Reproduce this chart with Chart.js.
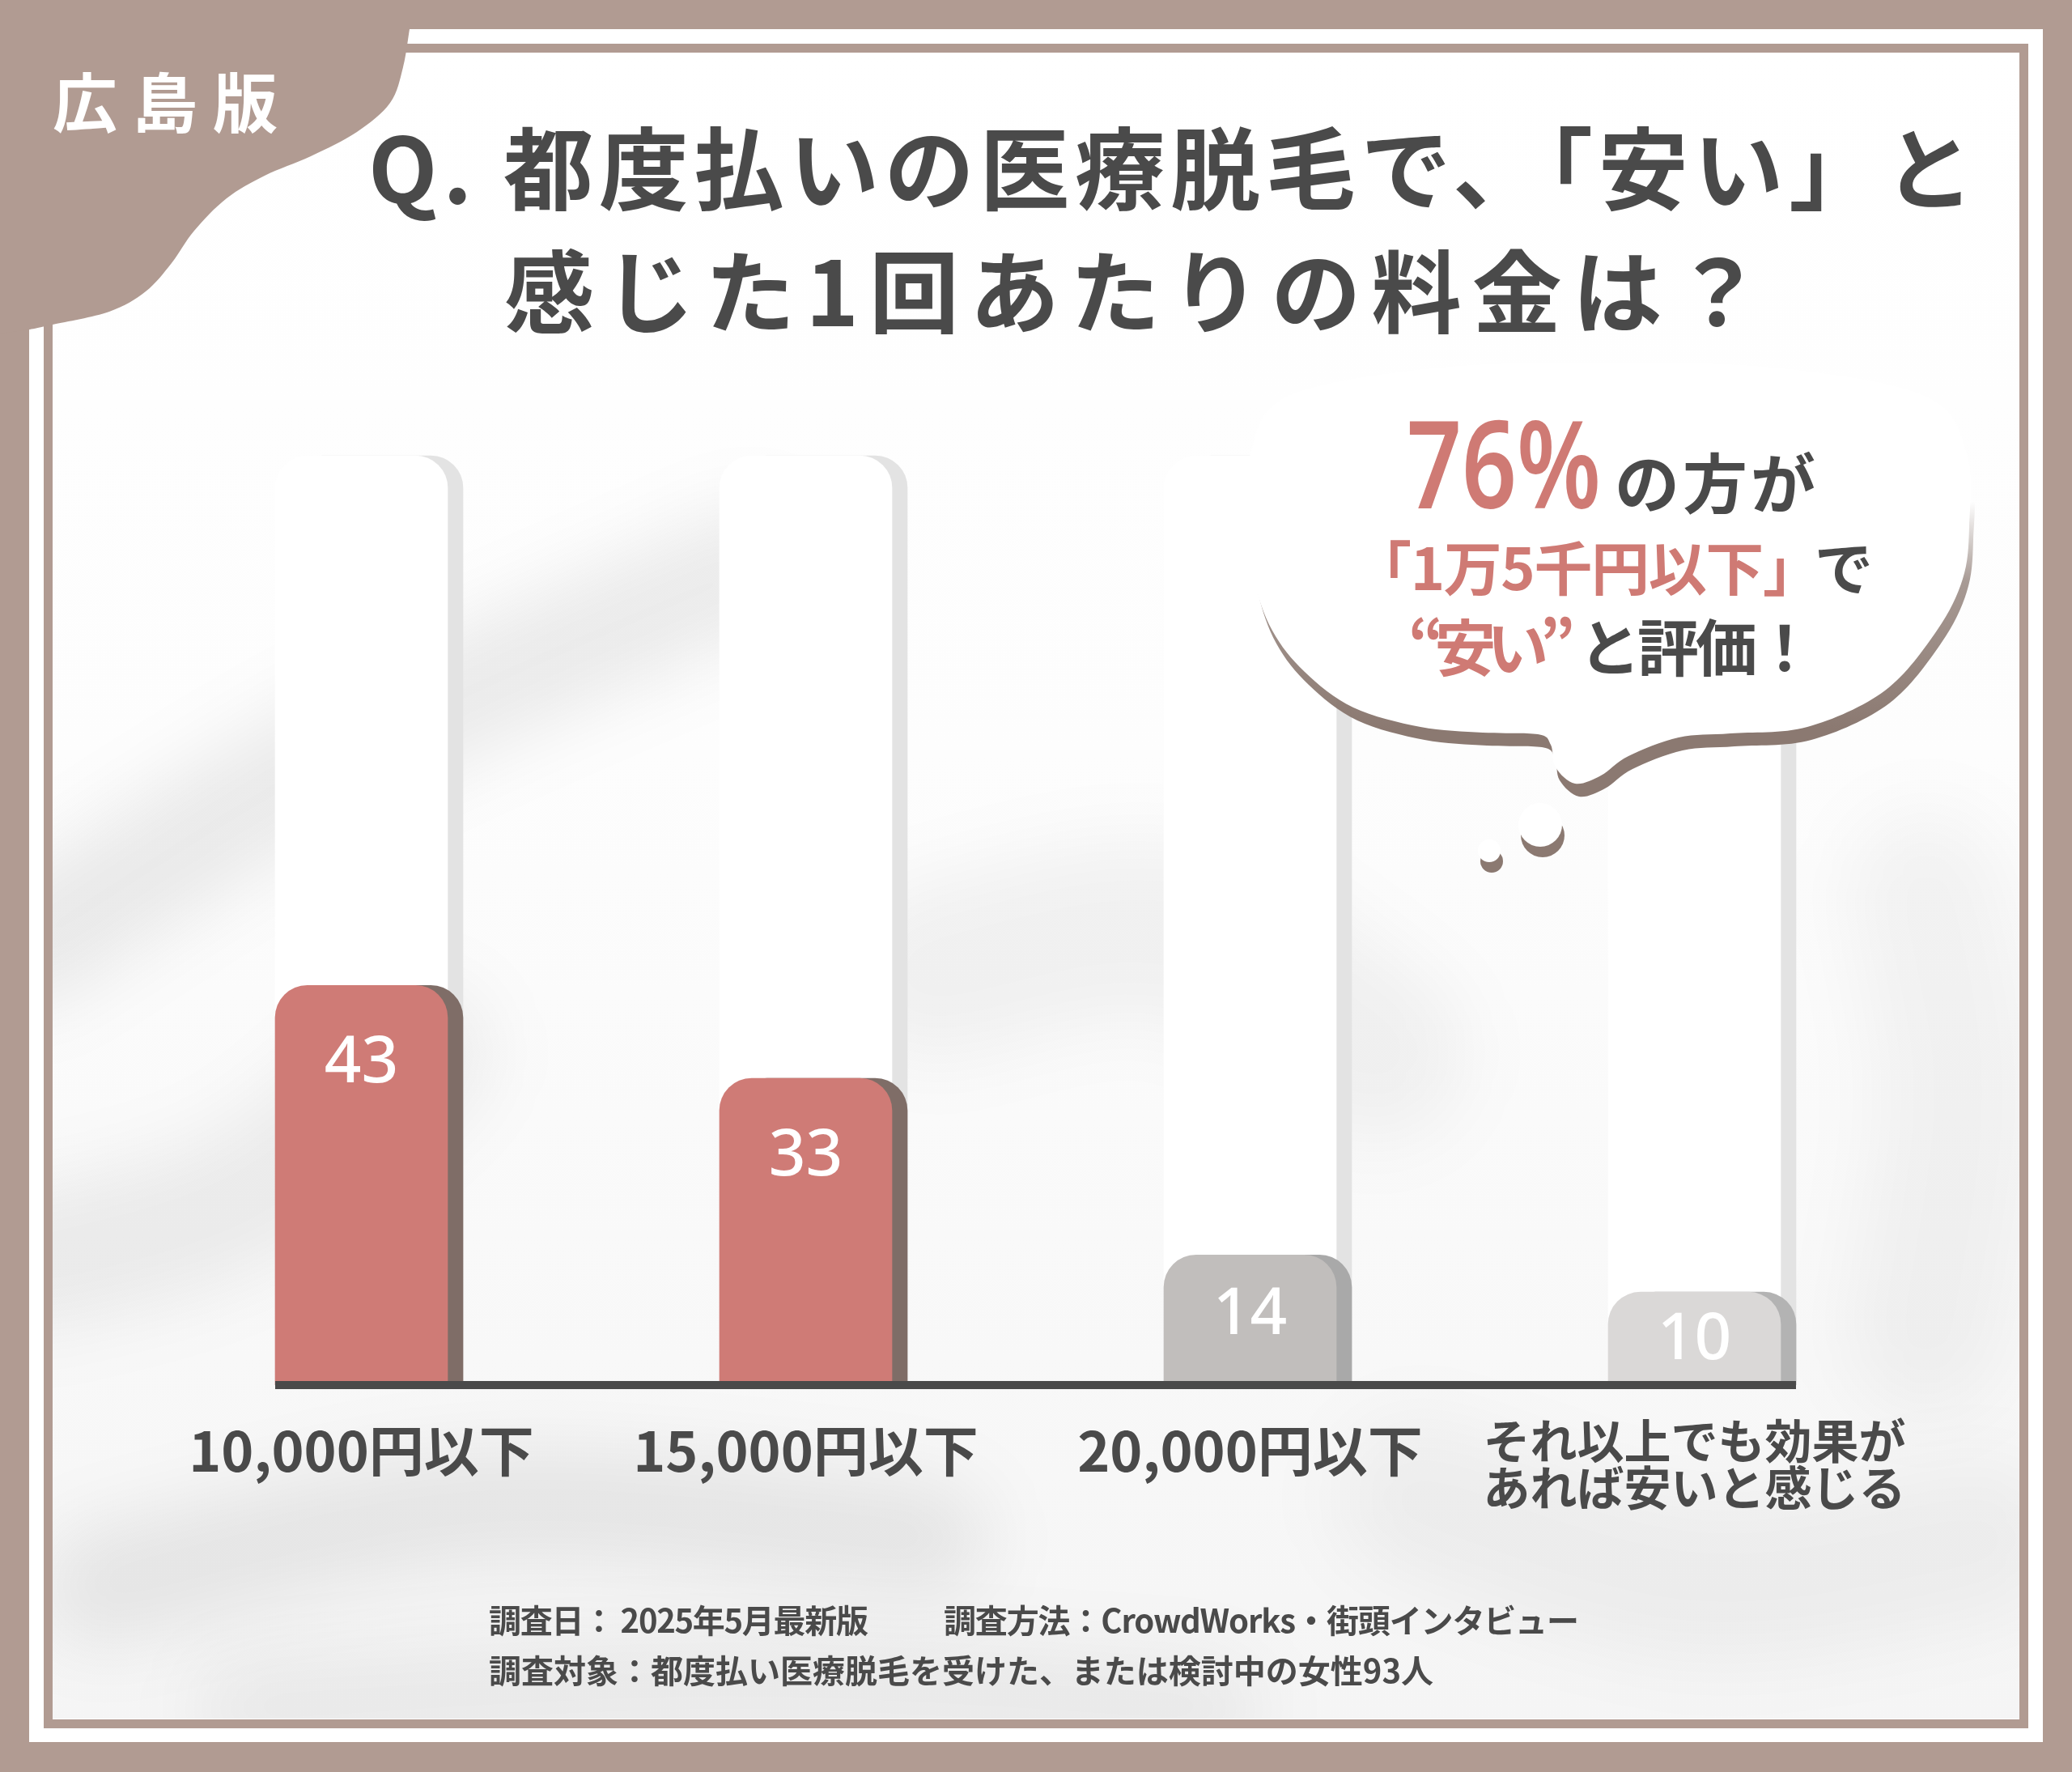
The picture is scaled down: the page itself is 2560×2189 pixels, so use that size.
<!DOCTYPE html>
<html lang="ja">
<head>
<meta charset="utf-8">
<title>都度払いの医療脱毛で「安い」と感じた1回あたりの料金</title>
<script src="https://cdn.jsdelivr.net/npm/chart.js@4.4.1/dist/chart.umd.min.js"></script>
<style>
  html, body { margin: 0; padding: 0; }
  body {
    width: 2560px; height: 2189px; position: relative; overflow: hidden;
    background: #b19b92;
    font-family: "Noto Sans CJK JP", "Noto Sans", sans-serif;
  }
  #chart { position: absolute; left: 0; top: 0; width: 2560px; height: 2189px; }
  .t {
    position: absolute; white-space: nowrap; line-height: 1;
    display: inline-block; font-weight: 700; color: #4a4a4a;
    transform-origin: 0 0;
  }
  .pk { color: #cf7a74; }
  .wh { color: #ffffff; }
</style>
</head>
<body>
<canvas id="chart" width="2560" height="2189"></canvas>

<div class="t wh fit" data-w="278" style="left:65px;top:82px;font-size:80px">広島版</div>

<div class="t fit" data-w="1984" style="left:455px;top:147px;font-size:111px">Q. 都度払いの医療脱毛で、「安い」と</div>
<div class="t fit" data-w="1555" style="left:623px;top:299px;font-size:111px">感じた1回あたりの料金は？</div>

<div class="t pk sx" data-w="240" style="left:1738px;top:495px;font-size:150px;font-weight:600;font-family:'Noto Sans',sans-serif">76%</div>
<div class="t fit" data-w="248" style="left:1995px;top:552px;font-size:80px">の方が</div>
<div class="t pk fit" data-w="578" style="left:1672px;top:662px;font-size:72px">「1万5千円以下」</div>
<div class="t" style="left:2242px;top:662px;font-size:72px">で</div>
<div class="t pk fit" data-w="206" style="left:1740px;top:758px;font-size:76px">“安い”</div>
<div class="t fit" data-w="292" style="left:1951px;top:758px;font-size:76px">と評価！</div>

<div class="t fit" data-w="469" style="left:604px;top:1980px;font-size:40px">調査日： 2025年5月最新版</div>
<div class="t fit" data-w="785" style="left:1166px;top:1980px;font-size:40px">調査方法：CrowdWorks・街頭インタビュー</div>
<div class="t fit" data-w="1167" style="left:604px;top:2042px;font-size:40px">調査対象：都度払い医療脱毛を受けた、または検討中の女性93人</div>

<script>
// 回答データ（人数）
const categories = ['10,000円以下', '15,000円以下', '20,000円以下', ['それ以上でも効果が', 'あれば安いと感じる']];
const counts = [43, 33, 14, 10];
const trackMax = [100, 100, 100, 100];

// 色
const barColors = ['#cf7b76', '#cf7b76', '#c1bebc', '#dad8d7'];
const barShadows = ['#7f6d67', '#7f6d67', '#a9a9a9', '#b3b3b3'];
const trackColor = '#ffffff';
const trackShadow = '#e3e3e3';
const brown = '#b19b92';
const ink = '#4a4a4a';

// テキスト幅を合わせる
document.querySelectorAll('.fit').forEach(el => {
    const n = [...el.textContent].length;
    el.style.letterSpacing = '0px';
    const w0 = el.getBoundingClientRect().width;
    el.style.letterSpacing = ((+el.dataset.w - w0) / (n - 1)) + 'px';
});
document.querySelectorAll('.sx').forEach(el => {
    const w0 = el.getBoundingClientRect().width;
    el.style.transform = 'scaleX(' + (+el.dataset.w / w0) + ')';
});

// なめらかな線（Catmull-Rom）
function smoothPath(ctx, pts, closed, dx = 0, dy = 0) {
    const n = pts.length;
    const P = i => closed ? pts[(i + n) % n] : pts[Math.max(0, Math.min(n - 1, i))];
    ctx.lineTo(pts[0][0] + dx, pts[0][1] + dy);
    const last = closed ? n : n - 1;
    for (let i = 0; i < last; i++) {
        const p0 = P(i - 1), p1 = P(i), p2 = P(i + 1), p3 = P(i + 2);
        ctx.bezierCurveTo(
            p1[0] + (p2[0] - p0[0]) / 6 + dx, p1[1] + (p2[1] - p0[1]) / 6 + dy,
            p2[0] - (p3[0] - p1[0]) / 6 + dx, p2[1] - (p3[1] - p1[1]) / 6 + dy,
            p2[0] + dx, p2[1] + dy
        );
    }
}

const cornerPts = [[506, 36], [498, 83], [482, 127], [441, 163], [384, 193], [327, 217], [280, 245],
    [240, 285], [212, 325], [180, 360], [135, 385], [65, 401], [37, 407]];

const bubblePts = [[1545, 560], [1540, 640], [1549, 715], [1572, 779], [1612, 830], [1672, 874],
    [1755, 898], [1832, 905], [1900, 907], [1916, 920], [1922, 948], [1946, 968], [1978, 958],
    [2012, 934], [2074, 911], [2138, 906], [2233, 898], [2329, 853], [2393, 779], [2425, 715],
    [2433, 651], [2430, 560], [2380, 490], [2200, 455], [1986, 448], [1770, 455], [1590, 490]];

// 背景の布っぽい陰影
const shades = [
    { c: 'rgba(0,0,0,0.075)', w: 150, p: [[30, 1170], [420, 930], [930, 700]] },
    { c: 'rgba(0,0,0,0.06)', w: 170, p: [[30, 1560], [300, 1480], [520, 1300]] },
    { c: 'rgba(0,0,0,0.07)', w: 140, p: [[120, 1960], [600, 1860], [1150, 1900]] },
    { c: 'rgba(0,0,0,0.05)', w: 120, p: [[300, 2110], [900, 2080], [1500, 2110]] },
    { c: 'rgba(0,0,0,0.045)', w: 220, p: [[1150, 1200], [1450, 1150], [1700, 1300]] },
    { c: 'rgba(0,0,0,0.04)', w: 200, p: [[2380, 1100], [2420, 1350], [2380, 1650]] },
    { c: 'rgba(0,0,0,0.04)', w: 200, p: [[1750, 1850], [2100, 1950], [2450, 1900]] }
];

const backdrop = {
    id: 'backdrop',
    beforeDraw(chart) {
        const ctx = chart.ctx;
        ctx.save();
        ctx.fillStyle = brown;
        ctx.fillRect(0, 0, 2560, 2189);
        ctx.fillStyle = '#ffffff';
        ctx.fillRect(36, 36, 2488, 2116);

        ctx.save();
        ctx.beginPath();
        ctx.rect(65, 65, 2430, 2058);
        ctx.clip();
        const base = ctx.createLinearGradient(0, 65, 0, 2123);
        base.addColorStop(0, '#ffffff');
        base.addColorStop(0.42, '#fdfdfd');
        base.addColorStop(1, '#f5f5f5');
        ctx.fillStyle = base;
        ctx.fillRect(65, 65, 2430, 2058);
        ctx.filter = 'blur(45px)';
        ctx.lineCap = 'round';
        ctx.lineJoin = 'round';
        shades.forEach(s => {
            ctx.strokeStyle = s.c;
            ctx.lineWidth = s.w;
            ctx.beginPath();
            smoothPath(ctx, s.p, false);
            ctx.stroke();
        });
        ctx.restore();

        ctx.strokeStyle = brown;
        ctx.lineWidth = 11;
        ctx.strokeRect(59.5, 59.5, 2441, 2070);

        ctx.fillStyle = brown;
        ctx.beginPath();
        ctx.moveTo(0, 0);
        ctx.lineTo(506, 0);
        smoothPath(ctx, cornerPts, false);
        ctx.lineTo(0, 412);
        ctx.closePath();
        ctx.fill();
        ctx.restore();
    },
    afterDraw(chart) {
        const ctx = chart.ctx;
        ctx.save();
        // 吹き出しの影（下側のみ）
        const sh = ctx.createLinearGradient(0, 620, 0, 900);
        sh.addColorStop(0, 'rgba(139,121,113,0)');
        sh.addColorStop(0.35, 'rgba(139,121,113,0.75)');
        sh.addColorStop(1, 'rgba(139,121,113,1)');
        ctx.save();
        ctx.beginPath();
        ctx.rect(1400, 620, 1100, 420);
        ctx.clip();
        ctx.fillStyle = sh;
        ctx.beginPath();
        smoothPath(ctx, bubblePts, true, 5, 16);
        ctx.closePath();
        ctx.fill();
        ctx.restore();

        ctx.fillStyle = '#ffffff';
        ctx.beginPath();
        smoothPath(ctx, bubblePts, true);
        ctx.closePath();
        ctx.fill();
        [[1903, 1019, 27], [1840, 1051, 14]].forEach(([x, y, r]) => {
            ctx.fillStyle = '#8b7971';
            ctx.beginPath(); ctx.arc(x + 3, y + 13, r, 0, Math.PI * 2); ctx.fill();
            ctx.fillStyle = '#ffffff';
            ctx.beginPath(); ctx.arc(x, y, r, 0, Math.PI * 2); ctx.fill();
        });
        ctx.restore();
    }
};

// 棒の右側の影
const barShadow = {
    id: 'barShadow',
    beforeDatasetDraw(chart, args) {
        const ctx = chart.ctx;
        const area = chart.chartArea;
        const isTrack = args.index === 1;
        ctx.save();
        ctx.beginPath();
        ctx.rect(area.left, area.top - 2, area.width, area.height + 2);
        ctx.clip();
        args.meta.data.forEach((bar, i) => {
            ctx.save();
            ctx.shadowColor = isTrack ? trackShadow : barShadows[i];
            ctx.shadowOffsetX = 19;
            ctx.shadowOffsetY = 0;
            ctx.shadowBlur = 0;
            bar.draw(ctx, area);
            ctx.restore();
        });
        ctx.restore();
        return false;
    },
    afterDatasetsDraw(chart) {
        const ctx = chart.ctx;
        const area = chart.chartArea;
        const bars = chart.getDatasetMeta(0).data;
        const first = bars[0], last = bars[bars.length - 1];
        const x0 = first.x - first.width / 2;
        const x1 = last.x + last.width / 2 + 19;
        ctx.save();
        ctx.fillStyle = ink;
        ctx.fillRect(x0, area.bottom - 5, x1 - x0, 10);

        ctx.font = '500 80px "Noto Sans", sans-serif';
        ctx.fillStyle = '#ffffff';
        ctx.textAlign = 'center';
        ctx.textBaseline = 'middle';
        bars.forEach((bar, i) => {
            const h = bar.base - bar.y;
            ctx.fillText(String(counts[i]), bar.x, bar.y + Math.min(97, 22 + h * 0.33));
        });
        ctx.restore();
    }
};

new Chart(document.getElementById('chart'), {
    type: 'bar',
    data: {
        labels: categories,
        datasets: [{
            label: '回答数',
            data: counts,
            backgroundColor: barColors,
            borderWidth: 0,
            borderRadius: 40,
            borderSkipped: 'start',
            barThickness: 213,
            grouped: false,
            order: 1
        }, {
            label: 'track',
            data: trackMax,
            backgroundColor: trackColor,
            borderWidth: 0,
            borderRadius: 40,
            borderSkipped: 'start',
            barThickness: 213,
            grouped: false,
            order: 2
        }]
    },
    options: {
        responsive: false,
        devicePixelRatio: 1,
        animation: false,
        layout: {
            padding: { left: 172, right: 192, top: 563, bottom: 0 }
        },
        plugins: {
            legend: { display: false },
            tooltip: { enabled: false }
        },
        scales: {
            x: {
                grid: { display: false },
                border: { display: false },
                afterFit: scale => { scale.height = 478; },
                ticks: {
                    color: ink,
                    padding: 32,
                    maxRotation: 0,
                    autoSkip: false,
                    font: ctx => ctx.index === 3
                        ? { family: '"Noto Sans CJK JP", sans-serif', size: 58, weight: 'bold', lineHeight: 1.0 }
                        : { family: '"Noto Sans CJK JP", sans-serif', size: 68, weight: 'bold', lineHeight: 1.2 }
                }
            },
            y: {
                display: false,
                min: 0,
                max: 100
            }
        }
    },
    plugins: [backdrop, barShadow]
});
</script>
</body>
</html>
